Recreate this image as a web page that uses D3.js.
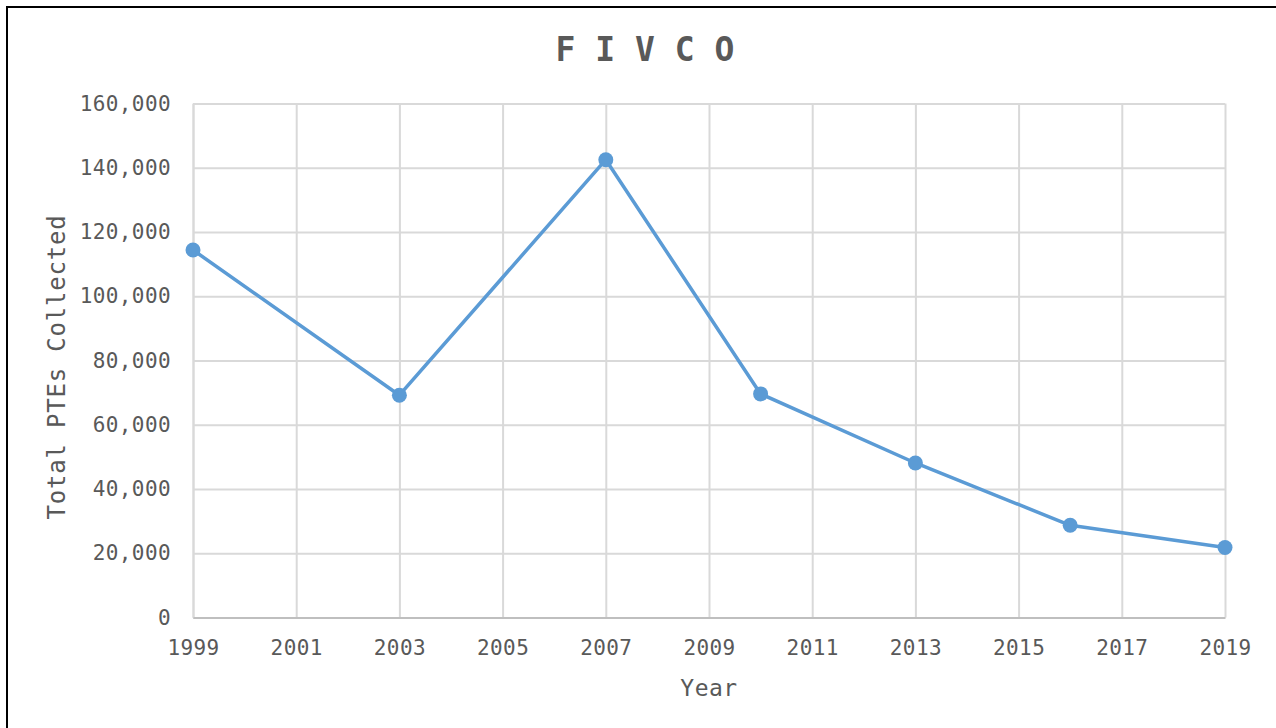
<!DOCTYPE html>
<html>
<head>
<meta charset="utf-8">
<script src="https://cdn.jsdelivr.net/npm/d3@7"></script>
<style>
  body { margin: 0; background: #fff; }
  text { font-family: "DejaVu Sans Mono", "Liberation Mono", monospace; fill: #595959; }
</style>
</head>
<body>
<div id="chart"></div>
<script>
var years = [1999, 2003, 2007, 2010, 2013, 2016, 2019];
var ptes = [114400, 69200, 142500, 69600, 48100, 28700, 21800];
var xTicks = [1999, 2001, 2003, 2005, 2007, 2009, 2011, 2013, 2015, 2017, 2019];
var yTicks = [0, 20000, 40000, 60000, 80000, 100000, 120000, 140000, 160000];

var data = years.map((y, i) => ({year: y, value: ptes[i]}));

var W = 1276, H = 728;
var margin = {top: 103.5, right: 51, bottom: 110, left: 193};
var width = W - margin.left - margin.right;
var height = H - margin.top - margin.bottom - 0.5;

var svg = d3.select("#chart").append("svg").attr("width", W).attr("height", H);

// outer border of the chart box
svg.append("rect").attr("x", 7).attr("y", 7).attr("width", 1300).attr("height", 800)
    .attr("fill", "none").attr("stroke", "#000").attr("stroke-width", 2);

var x = d3.scaleLinear().domain([1999, 2019]).range([0, width]);
var y = d3.scaleLinear().domain([0, 160000]).range([height, 0]);

var g = svg.append("g").attr("transform", `translate(${margin.left},${margin.top})`);

// gridlines
g.append("g").call(d3.axisLeft(y).tickValues(yTicks).tickSize(-width).tickFormat(""))
    .call(a => a.select(".domain").remove())
    .selectAll("line").attr("stroke", "#d9d9d9").attr("stroke-width", 2);
g.append("g").attr("transform", `translate(0,${height})`)
    .call(d3.axisBottom(x).tickValues(xTicks).tickSize(-height).tickFormat(""))
    .call(a => a.select(".domain").remove())
    .selectAll("line").attr("stroke", "#d9d9d9").attr("stroke-width", 2);

// y axis labels
var yAxis = g.append("g").call(d3.axisLeft(y).tickValues(yTicks).tickSize(0).tickPadding(22).tickFormat(d3.format(",")));
yAxis.select(".domain").attr("stroke", "#d9d9d9").attr("stroke-width", 2);
yAxis.selectAll("text").attr("font-size", 21).attr("letter-spacing", 0.4).style("fill", "#595959")
    .attr("font-family", "DejaVu Sans Mono");

// x axis labels
var xAxis = g.append("g").attr("transform", `translate(0,${height})`)
    .call(d3.axisBottom(x).tickValues(xTicks).tickSize(0).tickPadding(23).tickFormat(d3.format("d")));
xAxis.select(".domain").attr("stroke", "#bfbfbf").attr("stroke-width", 2);
xAxis.selectAll("text").attr("font-size", 21).attr("letter-spacing", 0.4).style("fill", "#595959")
    .attr("font-family", "DejaVu Sans Mono");

// line
var line = d3.line().x(d => x(d.year)).y(d => y(d.value));
g.append("path").datum(data).attr("d", line).attr("fill", "none")
    .attr("stroke", "#5b9bd5").attr("stroke-width", 3.5).attr("stroke-linejoin", "round");

g.selectAll(".dot").data(data).enter().append("circle").attr("class", "dot")
    .attr("cx", d => x(d.year)).attr("cy", d => y(d.value)).attr("r", 7.5)
    .attr("fill", "#5b9bd5");

// title
svg.append("text").attr("x", 645).attr("y", 61).attr("text-anchor", "middle")
    .attr("font-size", 33).attr("font-weight", "bold").text("F I V C O");

// axis titles
svg.append("text").attr("x", margin.left + width / 2).attr("y", 696).attr("text-anchor", "middle")
    .attr("font-size", 23).attr("letter-spacing", 0.5).text("Year");
svg.append("text").attr("transform", `translate(65,367) rotate(-90)`)
    .attr("text-anchor", "middle").attr("font-size", 24).attr("letter-spacing", 0.8)
    .text("Total PTEs Collected");
</script>
</body>
</html>
